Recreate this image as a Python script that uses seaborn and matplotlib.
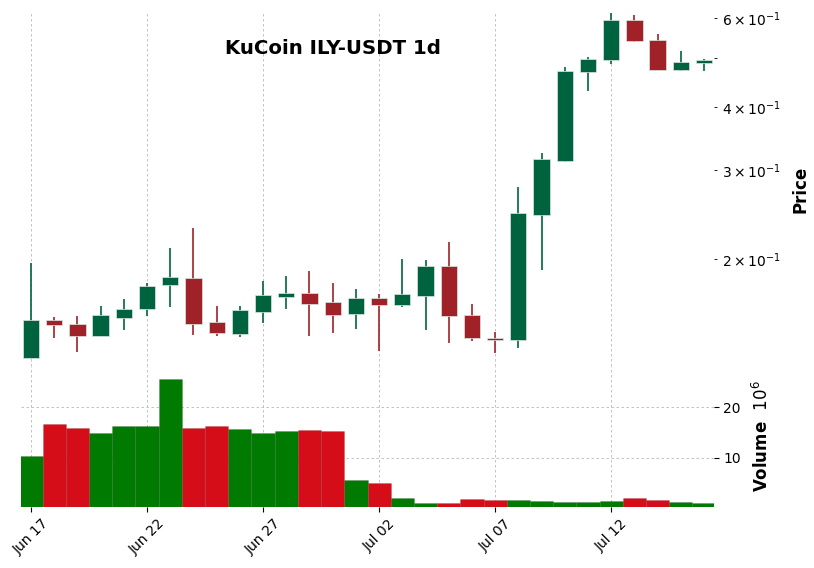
import numpy as np
import pandas as pd
import matplotlib
matplotlib.use("Agg")
import matplotlib.pyplot as plt
import seaborn as sns

# ---- data ----
dates = ["Jun 17", "Jun 18", "Jun 19", "Jun 20", "Jun 21", "Jun 22", "Jun 23", "Jun 24",
         "Jun 25", "Jun 26", "Jun 27", "Jun 28", "Jun 29", "Jun 30", "Jul 01", "Jul 02",
         "Jul 03", "Jul 04", "Jul 05", "Jul 06", "Jul 07", "Jul 08", "Jul 09", "Jul 10",
         "Jul 11", "Jul 12", "Jul 13", "Jul 14", "Jul 15", "Jul 16"]
opens = [0.1274, 0.1515, 0.1487, 0.1409, 0.1531, 0.1595, 0.1777, 0.1837, 0.1503, 0.1423,
         0.1573, 0.1684, 0.1713, 0.1644, 0.1559, 0.1674, 0.1624, 0.1692, 0.1937, 0.1549,
         0.1395, 0.1383, 0.2447, 0.3126, 0.4697, 0.4954, 0.5944, 0.5427, 0.4733, 0.4893]
highs = [0.1970, 0.1537, 0.1547, 0.1614, 0.1672, 0.1795, 0.2110, 0.2307, 0.1620, 0.1614,
         0.1812, 0.1857, 0.1896, 0.1795, 0.1747, 0.1707, 0.2006, 0.1997, 0.2168, 0.1631,
         0.1434, 0.2780, 0.3253, 0.4806, 0.5015, 0.6128, 0.6100, 0.5594, 0.5168, 0.4982]
lows = [0.1274, 0.1400, 0.1309, 0.1407, 0.1452, 0.1542, 0.1607, 0.1414, 0.1409, 0.1406,
        0.1499, 0.1597, 0.1409, 0.1427, 0.1458, 0.1315, 0.1612, 0.1452, 0.1368, 0.1381,
        0.1307, 0.1337, 0.1908, 0.3120, 0.4300, 0.4864, 0.5370, 0.4733, 0.4706, 0.4706]
closes = [0.1515, 0.1482, 0.1410, 0.1549, 0.1592, 0.1768, 0.1845, 0.1489, 0.1429, 0.1585,
          0.1697, 0.1715, 0.1631, 0.1552, 0.1674, 0.1624, 0.1705, 0.1937, 0.1545, 0.1397,
          0.1383, 0.2470, 0.3155, 0.4710, 0.4977, 0.5944, 0.5410, 0.4733, 0.4908, 0.4954]
volumes_m = [10.45, 16.7, 15.9, 14.8, 16.3, 16.3, 25.5, 15.9, 16.3, 15.7,
             14.8, 15.35, 15.5, 15.35, 5.75, 5.16, 2.2, 1.24, 1.24, 2.0,
             1.8, 1.8, 1.6, 1.42, 1.42, 1.6, 2.2, 1.8, 1.42, 1.24]
tick_every = 5

UP, DOWN = "#006340", "#A02128"
VUP, VDOWN = "#007a00", "#d50d18"

df = pd.DataFrame({"date": dates, "open": opens, "high": highs, "low": lows,
                   "close": closes, "volume": volumes_m})
df["pos"] = np.arange(len(df))
df["dir"] = np.where(df["close"] >= df["open"], "up", "down")

sns.set_style("white")
plt.rcParams["font.family"] = ["DejaVu Sans"]
plt.rcParams["text.color"] = "black"
plt.rcParams["axes.labelcolor"] = "black"

fig = plt.figure(figsize=(8.14, 5.68), dpi=100)
W, H = 814, 568
def rect(l, t, r, b):
    return [l / W, 1 - b / H, (r - l) / W, (b - t) / H]

axp = fig.add_axes(rect(21, 12, 714, 366))
axv = fig.add_axes(rect(21, 366, 714, 507))

# ---- candles ----
up = df["dir"] == "up"
cols = np.where(up, UP, DOWN)
axp.vlines(df["pos"], df["low"], df["high"], colors=cols, linewidth=1.2, zorder=2)
body_bot = np.minimum(df["open"], df["close"])
body_h = np.abs(df["close"] - df["open"])
body_h = np.maximum(body_h, body_bot * 0.004)
axp.bar(df["pos"], body_h, bottom=body_bot, width=0.7, color=cols,
        edgecolor="#dde8e2", linewidth=0.5, zorder=3)
axp.set_yscale("log")
axp.set_ylim(0.123, 0.617)
xlim = (-0.43, len(df) - 1 + 0.43)
axp.set_xlim(*xlim)

# ---- volume ----
sns.barplot(data=df, x="pos", y="volume", hue="dir", palette={"up": VUP, "down": VDOWN},
            dodge=False, native_scale=True, width=1.0, saturation=1, legend=False,
            ax=axv, zorder=3)
for p in axv.patches:
    p.set_edgecolor((0, 0, 0, 0.12))
    p.set_linewidth(0.6)
axv.set_xlim(*xlim)
axv.set_ylim(0.3 * min(volumes_m), 1.1 * max(volumes_m))
axv.set_yticks([10, 20])

ticks = df["pos"][::tick_every]
for ax in (axp, axv):
    for s in ax.spines.values():
        s.set_visible(False)
    ax.set_xticks(ticks)
    ax.grid(True, which="major", linestyle=(0, (3, 3)), color="#b8b8b8", linewidth=0.6)
    ax.set_axisbelow(True)
    ax.yaxis.tick_right()
    ax.yaxis.set_label_position("right")
    ax.tick_params(axis="y", which="both", right=True, left=False, labelsize=10,
                   colors="black", pad=3)
    ax.tick_params(axis="y", which="major", length=3.5, width=0.8)
    ax.tick_params(axis="y", which="minor", length=2.5, width=0.6)
    ax.set_xlabel("")

axp.tick_params(axis="x", bottom=False, labelbottom=False)
axv.set_xticklabels(df["date"][::tick_every], rotation=45, ha="center")
axv.tick_params(axis="x", bottom=True, length=3.5, width=0.8, labelsize=10, colors="black")

axp.set_ylabel("Price", fontsize=12, fontweight="bold", labelpad=8, color="black")
axv.set_ylabel("Volume  $10^{6}$", fontsize=12, fontweight="bold", labelpad=8, color="black")

fig.text(333 / W, 1 - 48 / H, "KuCoin ILY-USDT 1d", ha="center", va="center",
         fontsize=14.2, fontweight="bold", color="black")

fig.savefig("out.png", dpi=100)
